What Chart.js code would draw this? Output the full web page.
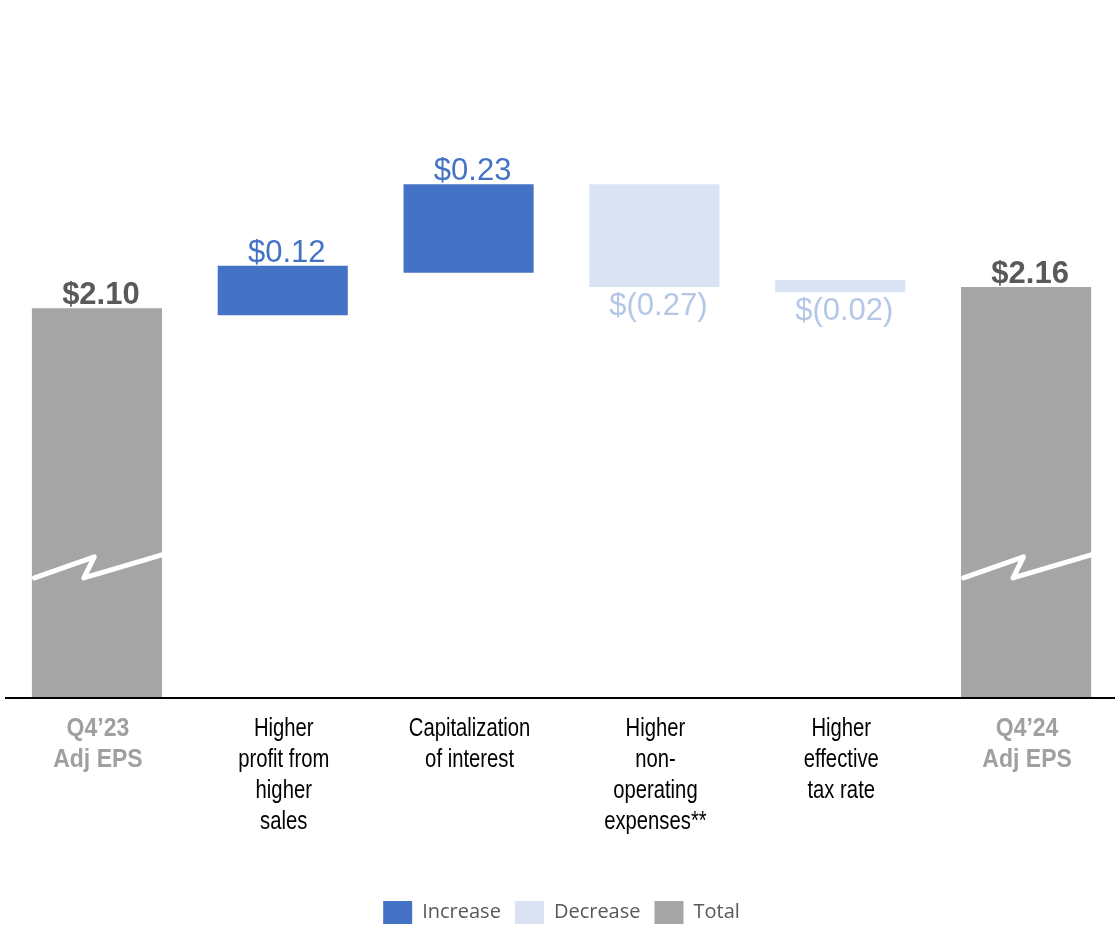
<!DOCTYPE html>
<html>
<head>
<meta charset="utf-8">
<title>Q4 Adj EPS bridge</title>
<script src="https://cdn.jsdelivr.net/npm/chart.js@4.4.0/dist/chart.umd.min.js"></script>
<style>
	html, body { margin: 0; padding: 0; background: #fff; overflow: hidden; }
	#wrap { width: 1119px; height: 938px; }
</style>
</head>
<body>
<div id="wrap"><canvas id="myChart"></canvas></div>
<script>
	// data ($ per share)
	const categories = [
		['Q4\u201923', 'Adj EPS'],
		['Higher', 'profit from', 'higher', 'sales'],
		['Capitalization', 'of interest'],
		['Higher', 'non-', 'operating', 'expenses**'],
		['Higher', 'effective', 'tax rate'],
		['Q4\u201924', 'Adj EPS']
	];
	const barFrom = [1.00, 2.08, 2.20, 2.45, 2.18, 1.00];
	const barTo = [2.10, 2.22, 2.45, 2.16, 2.145, 2.16];
	const barKind = ['total', 'increase', 'increase', 'decrease', 'decrease', 'total'];
	const valueLabels = ['$2.10', '$0.12', '$0.23', '$(0.27)', '$(0.02)', '$2.16'];
	const seriesNames = ['Increase', 'Decrease', 'Total'];
	const seriesKinds = ['increase', 'decrease', 'total'];
	const breakAt = 1.37; // axis break drawn across the total bars

	const colors = {
		increase: '#4472C4',
		decrease: '#DAE3F3',
		total: '#A5A5A5'
	};
	const labelColors = {
		increase: '#4472C4',
		decrease: '#B4C7E7',
		total: '#595959'
	};

	const datasets = seriesKinds.map(function (kind, s) {
		return {
			label: seriesNames[s],
			data: barKind.map((k, i) => k === kind ? [barFrom[i], barTo[i]] : null),
			backgroundColor: colors[kind],
			borderWidth: 0,
			barPercentage: 0.7,
			categoryPercentage: 1.0
		};
	});

	// value labels, break marks, axis line and the (narrow) category labels
	const extras = {
		id: 'extras',
		afterDatasetsDraw(chart) {
			const ctx = chart.ctx;
			const area = chart.chartArea;
			const y = chart.scales.y;
			const x = chart.scales.x;
			ctx.save();
			chart.data.datasets.forEach(function (ds, d) {
				const kind = seriesKinds[d];
				chart.getDatasetMeta(d).data.forEach(function (bar, i) {
					if (ds.data[i] == null) return;
					const top = Math.min(bar.y, bar.base);
					const bottom = Math.max(bar.y, bar.base);
					ctx.font = (kind === 'total' ? 'bold ' : '') + '31px "Liberation Sans", Arial, sans-serif';
					ctx.fillStyle = labelColors[kind];
					ctx.textAlign = 'center';
					ctx.textBaseline = 'alphabetic';
					if (kind === 'decrease')
						ctx.fillText(valueLabels[i], bar.x + 4, bottom + 28);
					else
						ctx.fillText(valueLabels[i], bar.x + 4, top - 4);

					if (kind === 'total') {
						const L = bar.x - bar.width / 2;
						const w = bar.width;
						const yc = y.getPixelForValue(breakAt);
						ctx.beginPath();
						ctx.moveTo(L + w * 0.02, yc + 11);
						ctx.lineTo(L + w * 0.48, yc - 10);
						ctx.lineTo(L + w * 0.40, yc + 11);
						ctx.lineTo(L + w, yc - 12);
						ctx.strokeStyle = '#fff';
						ctx.lineWidth = 5;
						ctx.lineJoin = 'round';
						ctx.lineCap = 'round';
						ctx.stroke();
					}
				});
			});

			// axis line
			ctx.beginPath();
			ctx.moveTo(area.left + 1, area.bottom);
			ctx.lineTo(area.right, area.bottom);
			ctx.strokeStyle = '#000';
			ctx.lineWidth = 2;
			ctx.lineCap = 'butt';
			ctx.stroke();

			// category labels, condensed like the original
			ctx.textAlign = 'center';
			ctx.textBaseline = 'alphabetic';
			categories.forEach(function (lines, i) {
				const total = barKind[i] === 'total';
				const cx = x.getPixelForValue(i) + 1;
				ctx.font = (total ? 'bold ' : '') + '25px "Liberation Sans", Arial, sans-serif';
				ctx.fillStyle = total ? '#A0A0A0' : '#000';
				lines.forEach(function (line, k) {
					ctx.save();
					ctx.translate(cx, area.bottom + 38 + k * 31);
					ctx.scale(total ? 0.92 : 0.81, 1);
					ctx.fillText(line, 0, 0);
					ctx.restore();
				});
			});
			ctx.restore();
		}
	};

	const chart = new Chart(document.getElementById('myChart').getContext('2d'), {
		type: 'bar',
		data: {
			labels: categories,
			datasets: datasets
		},
		options: {
			responsive: true,
			maintainAspectRatio: false,
			animation: false,
			layout: { padding: { left: 4, right: 0, top: 0, bottom: 4 } },
			plugins: {
				tooltip: { enabled: false },
				legend: {
					position: 'bottom',
					labels: {
						boxWidth: 29,
						boxHeight: 23,
						padding: 14,
						color: '#595959',
						font: { family: '"Open Sans", sans-serif', size: 20 }
					}
				}
			},
			scales: {
				x: {
					stacked: true,
					grid: { display: false },
					border: { display: false },
					ticks: { display: false },
					afterFit: function (scale) { scale.height = 189; }
				},
				y: {
					stacked: false,
					display: false,
					min: 1.0,
					max: 2.97
				}
			}
		},
		plugins: [extras]
	});
</script>
</body>
</html>
